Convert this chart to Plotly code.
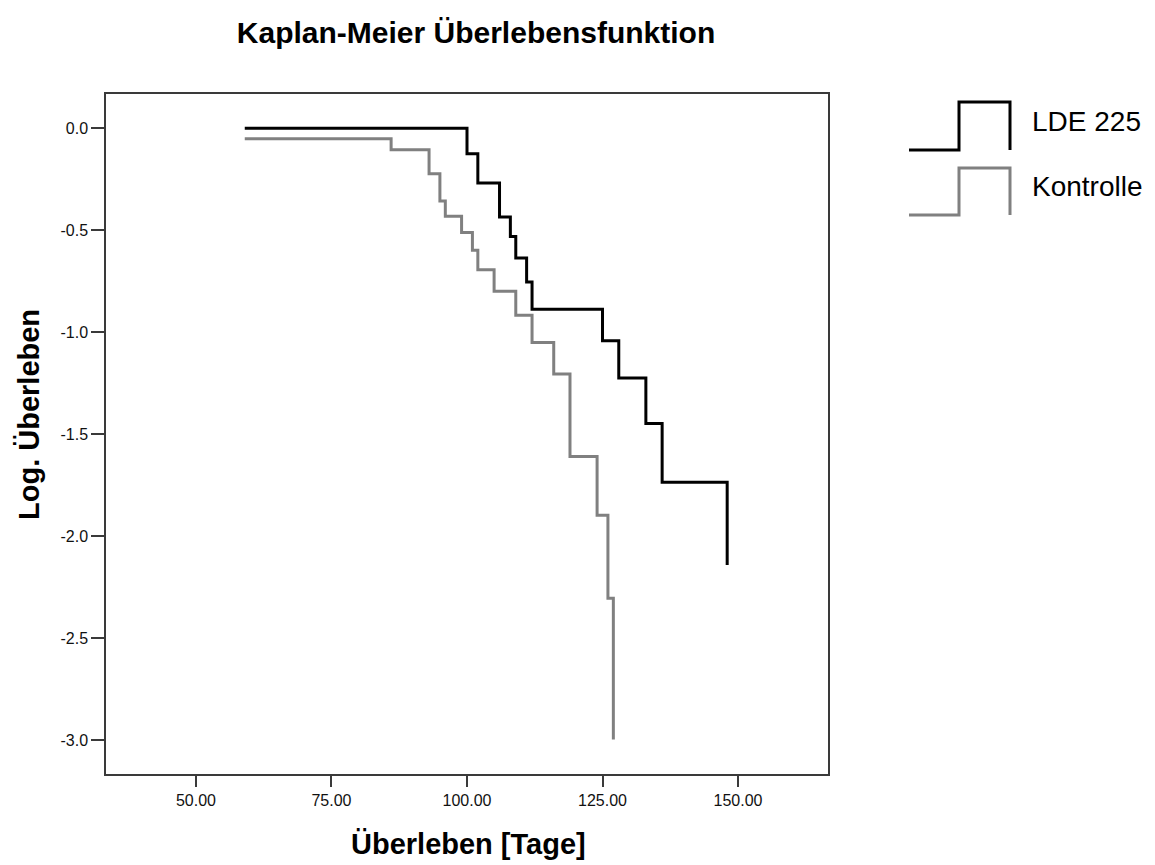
import plotly.graph_objects as go

# ---- data ----
lde_days = [59, 100, 102, 106, 108, 109, 111, 112, 125, 128, 133, 136, 148]
lde_logsurv = [0.0, -0.125, -0.268, -0.435, -0.531, -0.636, -0.754, -0.887,
               -1.041, -1.224, -1.447, -1.735, -2.140]

ctrl_days = [59, 86, 93, 95, 96, 99, 101, 102, 105, 109, 112, 116, 119, 124, 126, 127]
ctrl_logsurv = [-0.051, -0.105, -0.223, -0.357, -0.431, -0.511, -0.598, -0.693,
                -0.799, -0.916, -1.050, -1.204, -1.609, -1.897, -2.303, -2.996]

x_tickvals = [50, 75, 100, 125, 150]
x_ticktext = ["50.00", "75.00", "100.00", "125.00", "150.00"]
y_tickvals = [0.0, -0.5, -1.0, -1.5, -2.0, -2.5, -3.0]
y_ticktext = ["0.0", "-0.5", "-1.0", "-1.5", "-2.0", "-2.5", "-3.0"]

series_names = ["LDE 225", "Kontrolle"]
series_colors = ["#000000", "#808080"]

W, H = 1155, 865
L, R, T, B = 106, 828, 94, 774  # plot area in pixels

def px(x):
    return (x - L) / (R - L)

def py(y):
    return (B - y) / (B - T)

FONT = "Arial, 'Liberation Sans', sans-serif"

fig = go.Figure()
fig.add_trace(go.Scatter(x=lde_days, y=lde_logsurv, mode="lines",
                         line=dict(color=series_colors[0], width=3, shape="hv"),
                         name=series_names[0], showlegend=False))
fig.add_trace(go.Scatter(x=ctrl_days, y=ctrl_logsurv, mode="lines",
                         line=dict(color=series_colors[1], width=3, shape="hv"),
                         name=series_names[1], showlegend=False))

# custom legend with step glyphs
shapes = []
annotations = []
leg_rows = [(150, 102, 122), (215, 168, 187)]
for (ylow, yhigh, ytext), name, col in zip(leg_rows, series_names, series_colors):
    path = (f"M {px(909)} {py(ylow)} L {px(959)} {py(ylow)} L {px(959)} {py(yhigh)} "
            f"L {px(1010)} {py(yhigh)} L {px(1010)} {py(ylow)}")
    shapes.append(dict(type="path", xref="paper", yref="paper", path=path,
                       line=dict(color=col, width=3)))
    annotations.append(dict(text=name, xref="paper", yref="paper",
                            x=px(1030), y=py(ytext), xanchor="left", yanchor="middle",
                            showarrow=False, font=dict(family=FONT, size=28, color="#000")))

annotations.append(dict(text="<b>Überleben [Tage]</b>", xref="paper", yref="paper",
                        x=px(468), y=py(844), xanchor="center", yanchor="middle",
                        showarrow=False, font=dict(family=FONT, size=29, color="#000")))
annotations.append(dict(text="<b>Log. Überleben</b>", xref="paper", yref="paper",
                        x=px(29), y=py(415), xanchor="center", yanchor="middle",
                        textangle=-90, showarrow=False,
                        font=dict(family=FONT, size=29, color="#000")))

fig.update_layout(
    width=W, height=H,
    margin=dict(l=L, r=W - R, t=T, b=H - B),
    paper_bgcolor="white", plot_bgcolor="white",
    title=dict(text="<b>Kaplan-Meier Überlebensfunktion</b>", x=476 / W, xanchor="center",
               y=1 - 32 / H, yanchor="middle", xref="container", yref="container",
               font=dict(family=FONT, size=30, color="#000")),
    shapes=shapes, annotations=annotations,
    showlegend=False,
)
fig.update_xaxes(range=[33.4, 166.6], tickvals=x_tickvals, ticktext=x_ticktext,
                 showgrid=False, zeroline=False, showline=True, linecolor="#3a3a3a",
                 linewidth=1.5, mirror=True, ticks="outside", ticklen=11, tickwidth=1.5,
                 tickcolor="#3a3a3a", tickfont=dict(family=FONT, size=16, color="#111"))
fig.update_yaxes(range=[-3.165, 0.168], tickvals=y_tickvals, ticktext=y_ticktext,
                 showgrid=False, zeroline=False, showline=True, linecolor="#3a3a3a",
                 linewidth=1.5, mirror=True, ticks="outside", ticklen=13, tickwidth=1.5,
                 tickcolor="#3a3a3a", tickfont=dict(family=FONT, size=16, color="#111"))

fig.write_html("out.html", config={"displayModeBar": False},
               post_script="document.body.style.margin='0';document.body.style.overflow='hidden';")
